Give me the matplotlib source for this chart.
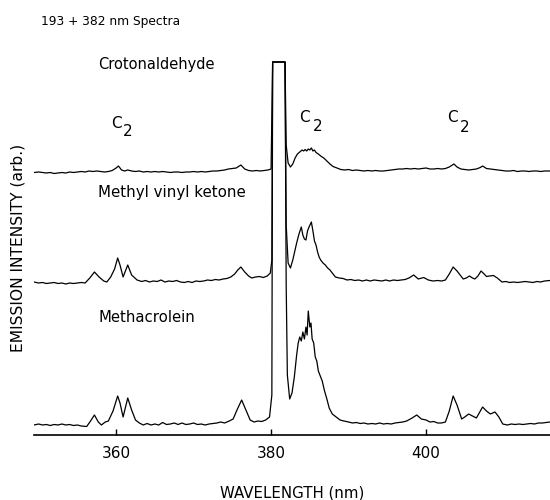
import matplotlib
matplotlib.use("Agg")
import matplotlib.pyplot as plt

# 193 + 382 nm 발광 스펙트라 (그림에서 읽은 값, 세로값은 임의 단위)
# 세 스펙트럼 모두 380.2~381.8 nm 에서 포화되어 사각형처럼 보인다

methacrolein_wl = [349.4, 350.0, 350.5, 351.0, 351.5, 352.0, 352.5, 353.0, 353.5, 354.0,
                   354.5, 355.0, 355.5, 356.2, 356.7, 357.2, 357.7, 358.1, 358.6, 359.0,
                   359.6, 360.2, 360.5, 360.9, 361.5, 362.0, 362.5, 363.0, 363.5, 364.0,
                   364.5, 365.0, 365.5, 366.0, 366.5, 367.0, 367.5, 368.0, 368.5, 369.0,
                   369.5, 370.0, 370.5, 371.0, 371.5, 372.0, 372.5, 373.0, 373.5, 374.0,
                   374.6, 375.1, 375.6, 376.2, 376.8, 377.3, 377.8, 378.3, 378.8, 379.3,
                   379.8, 380.1, 380.2, 381.8, 381.95, 382.1, 382.4, 382.7, 383.0, 383.3,
                   383.5, 383.7, 383.9, 384.1, 384.3, 384.5, 384.65, 384.8, 385.0, 385.15,
                   385.3, 385.5, 385.7, 385.9, 386.1, 386.3, 386.6, 386.9, 387.2, 387.5,
                   387.9, 388.4, 388.9, 389.4, 390.0, 390.5, 391.0, 391.5, 392.0, 392.5,
                   393.0, 393.5, 394.0, 394.5, 395.0, 395.5, 396.0, 396.5, 397.0, 397.5,
                   398.2, 398.8, 399.4, 400.0, 400.5, 401.0, 401.5, 402.0, 402.5, 403.0,
                   403.5, 404.0, 404.6, 405.0, 405.5, 406.0, 406.5, 407.0, 407.3, 407.8,
                   408.3, 408.9, 409.4, 409.9, 410.5, 411.0, 411.5, 412.0, 412.5, 413.0,
                   413.5, 414.0, 414.5, 415.0, 415.5, 416.0]
methacrolein_int = [10, 11, 10, 10.5, 9.5, 10.5, 10, 11, 10, 10.5,
                    9.5, 10, 9, 8.5, 14, 20, 13, 10, 13, 14,
                    24, 39, 32, 18, 37, 25, 15, 12, 10, 11.5,
                    10, 11, 10, 12.5, 10.5, 11, 12, 10.5, 12, 10.5,
                    11, 12, 10.5, 11, 10, 11, 11.5, 12, 13, 12,
                    14, 16, 25, 35, 24, 15, 13, 14, 13.5, 15,
                    18, 40, 373, 373, 150, 60, 36, 42, 58, 80,
                    92, 98, 94, 103, 96, 108, 100, 124, 108, 112,
                    96, 92, 78, 74, 64, 60, 54, 44, 36, 27,
                    21, 18, 15, 14, 13, 12, 12.5, 11.5, 12, 11,
                    11.5, 11, 12, 11, 11.5, 11, 12, 12.5, 13, 14,
                    17, 20, 16, 15, 13, 13.5, 12, 12, 13, 24,
                    39, 30, 16, 18, 21, 19, 17, 24, 28, 24,
                    21, 23, 18, 11, 10, 11, 10.5, 11, 10.5, 11,
                    11.5, 11, 12, 12, 12.5, 13]

mvk_wl = [349.4, 350.0, 350.5, 351.0, 351.5, 352.0, 352.5, 353.0, 353.5, 354.0,
          354.5, 355.0, 355.5, 356.0, 356.6, 357.2, 357.8, 358.4, 358.8, 359.3,
          359.8, 360.2, 360.5, 360.9, 361.5, 362.0, 362.7, 363.3, 363.8, 364.3,
          364.8, 365.3, 365.8, 366.3, 366.8, 367.3, 367.8, 368.3, 368.8, 369.3,
          369.8, 370.3, 370.8, 371.3, 371.8, 372.3, 372.8, 373.3, 373.8, 374.3,
          374.8, 375.3, 375.7, 376.1, 376.6, 377.1, 377.5, 378.0, 378.5, 379.0,
          379.5, 379.9, 380.1, 380.2, 381.8, 381.95, 382.2, 382.5, 382.8, 383.1,
          383.3, 383.6, 383.9, 384.1, 384.3, 384.5, 384.7, 384.9, 385.2, 385.4,
          385.6, 385.8, 386.0, 386.2, 386.4, 386.7, 387.0, 387.3, 387.6, 388.0,
          388.3, 388.8, 389.3, 389.8, 390.3, 390.8, 391.3, 391.8, 392.3, 392.8,
          393.3, 393.8, 394.3, 394.8, 395.3, 395.8, 396.3, 396.8, 397.3, 397.8,
          398.4, 399.0, 399.7, 400.3, 400.9, 401.5, 402.0, 402.5, 403.0, 403.5,
          404.0, 404.4, 404.8, 405.2, 405.6, 406.0, 406.3, 406.7, 407.1, 407.5,
          407.8, 408.2, 408.7, 409.2, 409.8, 410.3, 410.8, 411.3, 411.8, 412.3,
          412.8, 413.3, 413.8, 414.3, 414.8, 415.3, 416.0]
mvk_int = [153, 152, 152.5, 151.5, 152, 152.5, 151.5, 152, 151, 152,
           151.5, 152, 152.5, 152, 157, 163, 158, 154, 153, 158,
           166, 177, 170, 158, 170, 160, 155, 153.5, 154.5, 153,
           154, 153.5, 155, 153, 154, 153.5, 154.5, 153, 152.5, 153.5,
           152.5, 154, 153.5, 154, 155, 154.5, 155.5, 155, 156, 156.5,
           158, 161, 165, 168, 163, 159, 157, 158, 158.5, 157.5,
           159, 162, 175, 373, 373, 210, 172, 167, 175, 185,
           192, 201, 208, 200, 196, 195, 204, 208, 213, 204,
           194, 190, 183, 178, 175, 172, 170, 167, 165, 161,
           158, 157, 156.5, 155, 155.5, 154.5, 155, 154, 155, 154,
           155, 154.5, 154, 155, 154, 155, 154.5, 155, 155.5, 157,
           160, 156, 157.5, 155, 154, 154.5, 154, 155, 161, 168,
           164, 160, 156, 157, 159, 157, 156, 159, 164, 161,
           158.5, 159, 159.5, 157, 153, 153.5, 152.5, 153, 152.5, 153,
           153.5, 153, 152.5, 153.5, 153, 154, 154.5]

croton_wl = [349.4, 350.0, 350.5, 351.0, 351.5, 352.0, 352.5, 353.0, 353.5, 354.0,
             354.5, 355.0, 355.5, 356.0, 356.5, 357.0, 357.5, 358.0, 358.5, 359.0,
             359.5, 360.0, 360.3, 360.7, 361.1, 361.5, 362.0, 362.5, 363.0, 363.5,
             364.0, 364.5, 365.0, 365.5, 366.0, 366.5, 367.0, 367.5, 368.0, 368.5,
             369.0, 369.5, 370.0, 370.5, 371.0, 371.5, 372.0, 372.5, 373.0, 373.5,
             374.0, 374.5, 375.0, 375.5, 376.1, 376.6, 377.1, 377.6, 378.1, 378.6,
             379.1, 379.6, 380.0, 380.2, 381.8, 381.95, 382.2, 382.5, 382.8, 383.1,
             383.4, 383.7, 384.0, 384.2, 384.4, 384.6, 384.8, 385.0, 385.2, 385.4,
             385.6, 385.8, 386.1, 386.4, 386.8, 387.2, 387.6, 388.0, 388.5, 389.0,
             389.5, 390.0, 390.5, 391.0, 391.5, 392.0, 392.5, 393.0, 393.5, 394.0,
             394.5, 395.0, 395.5, 396.0, 396.5, 397.0, 397.5, 398.0, 398.5, 399.0,
             399.5, 400.0, 400.5, 401.0, 401.5, 402.0, 402.5, 403.0, 403.6, 404.0,
             404.5, 405.0, 405.5, 406.0, 406.5, 407.0, 407.3, 407.8, 408.3, 408.8,
             409.3, 409.8, 410.3, 410.8, 411.3, 411.8, 412.3, 412.8, 413.3, 413.8,
             414.3, 414.8, 415.3, 416.0]
croton_int = [262.5, 263, 262.5, 262, 262.5, 261.5, 262, 262.5, 262, 263,
              262.5, 263, 263.5, 263, 264, 263.5, 264, 263.5, 263, 263.5,
              264.5, 267, 269, 265, 264, 265, 264, 263.5, 264, 263,
              263.5, 263, 263.5, 263, 263.5, 263, 262.5, 263, 263, 262.5,
              263, 263, 263.5, 263, 263.5, 263, 263.5, 264, 264, 264.5,
              265, 266, 266.5, 267, 270, 266, 264.5, 264, 264.5, 264,
              264.5, 265, 266, 373, 373, 290, 272, 268, 271, 277,
              281, 283, 285, 284, 285.5, 284, 286, 285, 287, 284,
              285, 282.5, 281, 279, 277, 274, 271, 268.5, 267, 265.5,
              265, 265.5, 264.5, 265, 264.5, 264, 264.5, 264, 264.5, 264,
              264, 264.5, 265, 265.5, 266, 266, 266.5, 266, 266.5, 266,
              266.5, 267, 266, 266, 266.5, 266, 266.5, 268, 271, 268,
              266, 265.5, 265, 265.5, 266, 267.5, 269, 266.5, 266, 265.5,
              265, 264.5, 264, 264, 264.5, 263.5, 264, 264, 263.5, 264,
              264, 263.5, 264, 264]

tick_values = [360, 380, 400]
tick_labels = ["360", "380", "400"]

W, H = 550, 500
fig = plt.figure(figsize=(5.5, 5.0), dpi=100)
ax = fig.add_axes([34 / W, 65 / H, 516 / W, 395 / H])

for wl, inten in [(methacrolein_wl, methacrolein_int),
                  (mvk_wl, mvk_int),
                  (croton_wl, croton_int)]:
    ax.plot(wl, inten, color="black", lw=0.9)

ax.set_xlim(349.4, 416.0)
ax.set_ylim(0, 395)
for s in ["left", "top", "right"]:
    ax.spines[s].set_visible(False)
ax.spines["bottom"].set_linewidth(1.2)
ax.set_yticks([])
ax.set_xticks(tick_values)
ax.set_xticklabels(tick_labels)
ax.tick_params(axis="x", direction="in", length=4, width=1, pad=8, labelsize=11)


def ftext(x, y, s, **kw):
    # 픽셀 좌표로 글자 놓기
    fig.text(x / W, 1 - y / H, s, **kw)


ftext(41, 21, "193 + 382 nm Spectra", fontsize=8.8, va="center")
ftext(98, 65, "Crotonaldehyde", fontsize=10.5, va="center")
ftext(98, 193, "Methyl vinyl ketone", fontsize=10.8, va="center")
ftext(98, 318, "Methacrolein", fontsize=10.7, va="center")

for cx, cy, nx, ny in [(116, 124, 128, 131.5), (304, 117.5, 318, 126.7), (452, 117, 465, 127.5)]:
    ftext(cx, cy, "C", fontsize=11, ha="center", va="center")
    ftext(nx, ny, "2", fontsize=11, ha="center", va="center")

ftext(292, 493, "WAVELENGTH (nm)", fontsize=10.8, ha="center", va="center")
ftext(18, 248, "EMISSION INTENSITY (arb.)", fontsize=11.2, ha="center", va="center",
      rotation=90)

fig.savefig("out.png", dpi=100)
